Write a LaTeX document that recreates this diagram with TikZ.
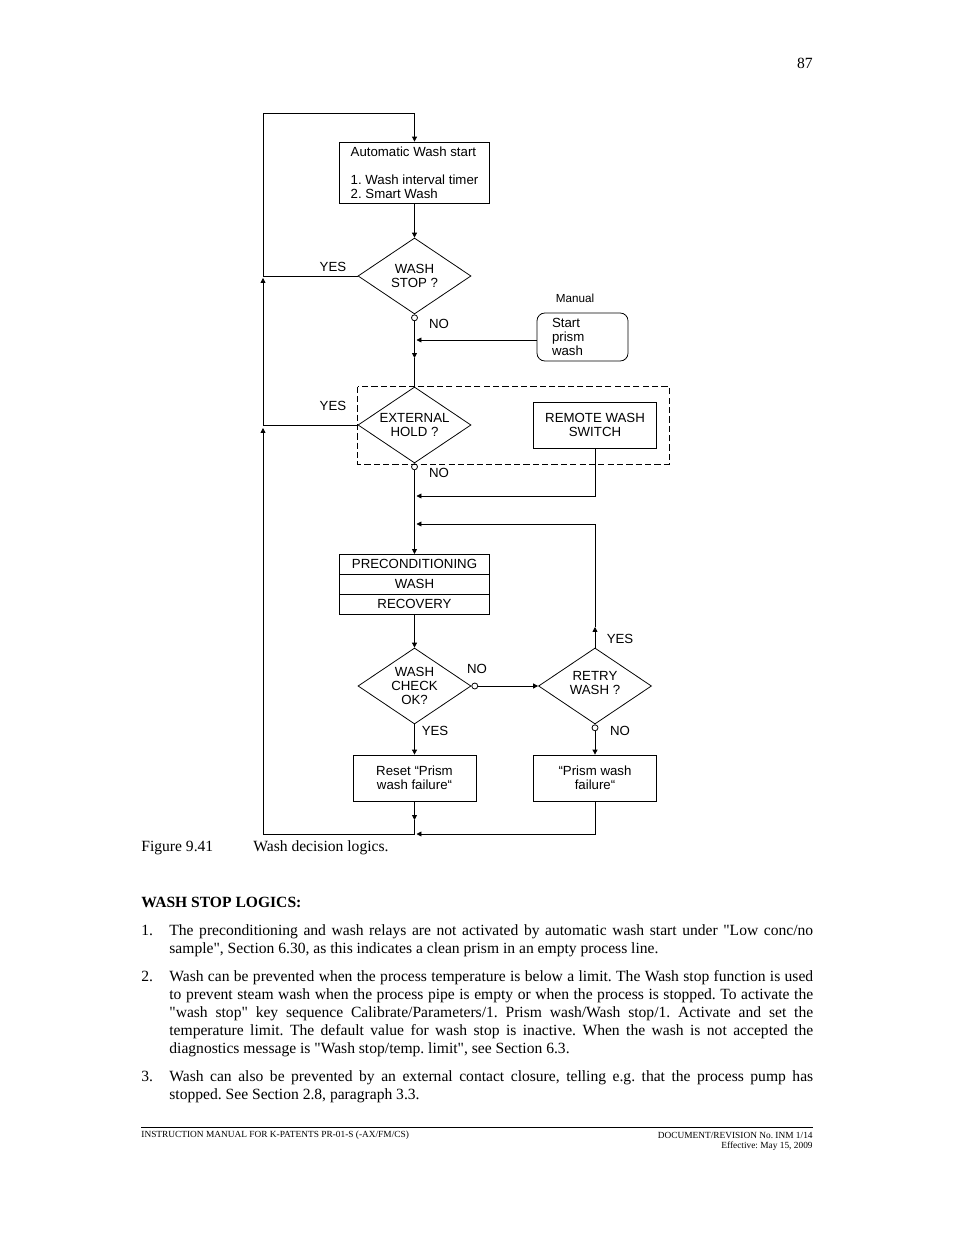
\documentclass[tikz,border=0pt]{standalone}
\usepackage{fontspec}
\setmainfont{Liberation Serif}
\newfontfamily\chartfont{Liberation Sans}
\usetikzlibrary{shapes.geometric, arrows.meta, positioning}
\newcommand{\pxu}{0.64151pt}
\newcommand{\dq}{\textquotedbl}
% one justified line of the body text
\newcommand{\jline}[3]{\node[txt] (#1) at (169,#2) {\makebox[413pt][s]{#3}};}

\begin{document}
\frenchspacing
\begin{tikzpicture}[x=\pxu, y=-\pxu, line width=0.5pt,
    cfont/.style={font=\chartfont\fontsize{8.5}{9}\selectfont},
    box/.style={rectangle, draw, cfont, minimum width=123*\pxu,
                minimum height=46*\pxu, align=center, inner sep=1pt},
    stbox/.style={box, minimum width=150*\pxu, minimum height=61*\pxu, align=left},
    prebox/.style={box, minimum width=150*\pxu, minimum height=20*\pxu, outer sep=0pt},
    manbox/.style={box, rounded corners=5pt, minimum width=91*\pxu, minimum height=48*\pxu,
                   align=left, text width=61*\pxu, inner xsep=15*\pxu},
    dec/.style={diamond, draw, cfont, aspect=1.5, inner sep=0pt, align=center,
                minimum width=113*\pxu, minimum height=76*\pxu},
    dot/.style={circle, draw, fill=white, inner sep=0pt, minimum size=6*\pxu},
    lbl/.style={cfont, inner sep=0pt},
    arr/.style={-{Triangle[length=3.2pt, width=3.2pt]}},
    txt/.style={anchor=base west, yshift=-2.6pt, inner sep=0pt, font=\fontsize{10}{11.5}\selectfont},
    foot/.style={inner sep=0pt, font=\fontsize{6}{7}\selectfont}]

    \fill[white] (0,0) rectangle (954,1235);
    \useasboundingbox (0,0) rectangle (954,1235);

    \node[txt, anchor=base east] (pgno) at (813,64) {87};

    % flow chart
    \node[stbox] (auto) at (414.5,172.5) {Automatic Wash start\\[8.8pt]1. Wash interval timer\\2. Smart Wash};
    \node[dec] (ws) at (414.5,276) {WASH\\STOP ?};
    \node[dot, anchor=north] (wsno) at (ws.south) {};
    \node[lbl] (wsyes) at (333,267) {YES};
    \node[lbl] (wsnol) at (439,324) {NO};

    \node[lbl, font=\chartfont\fontsize{7.5}{8}\selectfont] (man) at (575,298) {Manual};
    \node[manbox] (spw) at (582.5,337) {Start\\prism\\wash};

    \node[dec] (eh) at (414.5,425) {EXTERNAL\\HOLD ?};
    \node[dot, anchor=north] (ehno) at (eh.south) {};
    \node[lbl] (ehyes) at (333,406) {YES};
    \node[lbl] (ehnol) at (439,473) {NO};
    \node[box] (rws) at (595,425) {REMOTE WASH\\SWITCH};
    \draw[dashed, dash pattern=on 4pt off 2pt] (eh.west |- eh.north) rectangle (669,464);

    \node[prebox] (pre) at (414.5,564) {PRECONDITIONING};
    \node[prebox, below=0pt of pre] (wash) {WASH};
    \node[prebox, below=0pt of wash] (rec) {RECOVERY};

    \node[dec] (wc) at (414.5,686) {WASH\\CHECK\\OK?};
    \node[dot, anchor=west] (wcno) at (wc.east) {};
    \node[lbl] (wcnol) at (477,669) {NO};
    \node[lbl] (wcyes) at (435,731) {YES};
    \node[dec] (rw) at (595,686) {RETRY\\WASH ?\\[-4.5pt]\mbox{}};
    \node[dot, anchor=north] (rwno) at (rw.south) {};
    \node[lbl] (rwyes) at (620,639) {YES};
    \node[lbl] (rwnol) at (620,731) {NO};

    \node[box] (reset) at (414.5,778) {Reset “Prism\\wash failure“};
    \node[box] (pwf) at (595,778) {“Prism wash\\failure“};

    % connectors
    \draw[arr] (ws.west) -- (263,276) -- (263,113) -- (414.5,113) -- (auto.north);
    \draw[arr] (auto) -- (ws);
    \draw[arr] (wsno) -- (414.5,358) coordinate (m1);
    \draw (m1) -- (eh.north);
    \coordinate (m0) at (416.5,340);
    \draw[arr] (spw.west |- m0) -- (m0);
    \draw[arr] (eh.west) -- (263,425) -- (263,278);
    \draw[arr] (ehno) -- (pre);
    \draw[arr] (rws) -- (595,496) -- (416.5,496);
    \draw[arr] (rw) -- (595,627) coordinate (m2);
    \draw[arr] (m2) -- (595,524) -- (416.5,524);
    \draw[arr] (rec) -- (wc);
    \draw[arr] (wcno) -- (rw);
    \draw[arr] (wc) -- (reset);
    \draw[arr] (rwno) -- (pwf);
    \draw[arr] (reset) -- (414.5,820) coordinate (m3);
    \draw[arr] (m3) -- (414.5,834) -- (263,834) -- (263,428);
    \draw[arr] (pwf) -- (595,834) -- (416.5,834);

    % caption and text
    \node[txt] (capnum) at (141,847) {Figure 9.41};
    \node[txt] (captxt) at (253,847) {Wash decision logics.};
    \node[txt, font=\fontsize{10}{11.5}\selectfont\bfseries] (head) at (141,903) {WASH STOP LOGICS:};

    \node[txt] (n1) at (141,931) {1.};
    \jline{p1a}{931}{The preconditioning and wash relays are not activated by automatic wash start under \dq Low conc/no}
    \node[txt] (p1b) at (169,949) {sample\dq, Section 6.30, as this indicates a clean prism in an empty process line.};

    \node[txt] (n2) at (141,977) {2.};
    \jline{p2a}{977}{Wash can be prevented when the process temperature is below a limit. The Wash stop function is used}
    \jline{p2b}{995}{to prevent steam wash when the process pipe is empty or when the process is stopped. To activate the}
    \jline{p2c}{1013}{\dq wash stop\dq{} key sequence Calibrate/Parameters/1. Prism wash/Wash stop/1. Activate and set the}
    \jline{p2d}{1031}{temperature limit. The default value for wash stop is inactive. When the wash is not accepted the}
    \node[txt] (p2e) at (169,1049) {diagnostics message is \dq Wash stop/temp. limit\dq, see Section 6.3.};

    \node[txt] (n3) at (141,1077) {3.};
    \jline{p3a}{1077}{Wash can also be prevented by an external contact closure, telling e.g. that the process pump has}
    \node[txt] (p3b) at (169,1095) {stopped. See Section 2.8, paragraph 3.3.};

    % footer
    \draw[line width=0.6pt] (141,1127) -- (813,1127);
    \node[foot, anchor=west] (fl) at (141,1135) {INSTRUCTION MANUAL FOR K-PATENTS PR-01-S (-AX/FM/CS)};
    \node[foot, anchor=east] (fr1) at (813,1135) {DOCUMENT/REVISION No. INM 1/14};
    \node[foot, anchor=east] (fr2) at (813,1146) {Effective: May 15, 2009};
\end{tikzpicture}
\end{document}
